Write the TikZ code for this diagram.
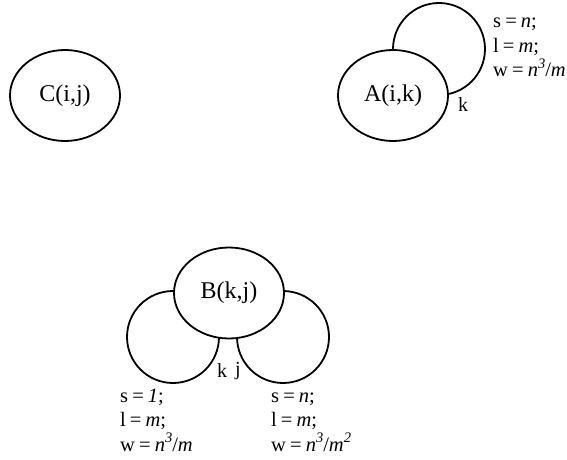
\documentclass[tikz,border=0pt]{standalone}
\usepackage{fontspec}
\setmainfont{Liberation Serif}
\usetikzlibrary{shapes.geometric}
\newcommand{\supit}[1]{\raisebox{0.42em}{\fontsize{14.5}{14.5}\selectfont\textit{#1}}}
\newcommand{\eqsp}{\hspace{0.2em}=\hspace{0.2em}}
\begin{document}
\begin{tikzpicture}[x=1pt,y=-1pt,
  ell/.style={ellipse, draw, line width=1.8pt, fill=white, minimum width=110pt, minimum height=91pt, inner sep=0pt, font=\fontsize{24}{24}\selectfont},
  lp/.style={circle, draw, line width=1.8pt, minimum size=92pt, inner sep=0pt},
  lab/.style={align=left, anchor=base west, inner sep=0pt, font=\fontsize{20.5}{24.5}\selectfont},
  idx/.style={inner sep=0pt, font=\fontsize{20}{20}\selectfont}]
\useasboundingbox (0,0) rectangle (567,460);
% loops (drawn first, ellipses cover them)
\node[lp] (loopA) at (439,49) {};
\node[lp] (loopBl) at (173,337) {};
\node[lp] (loopBr) at (283,337) {};
% nodes
\node[ell] (C) at (65,95.5) {C(i,j)};
\node[ell] (A) at (393,95.5) {A(i,k)};
\node[ell] (B) at (229,293) {B(k,j)};
% labels (base anchor = baseline of the last line)
\node[lab] (labA) at (493,77) {s\eqsp\textit{n};\\l\eqsp\textit{m};\\w\eqsp\textit{n}\supit{3}/\textit{m}};
\node[idx] (kA) at (463,105) {k};
\node[idx] (kB) at (222,371) {k};
\node[idx] (jB) at (238,371) {j};
\node[lab] (labBl) at (120,451) {s\eqsp\textit{1};\\l\eqsp\textit{m};\\w\eqsp\textit{n}\supit{3}/\textit{m}};
\node[lab] (labBr) at (271,451) {s\eqsp\textit{n};\\l\eqsp\textit{m};\\w\eqsp\textit{n}\supit{3}/\textit{m}\supit{2}};
\end{tikzpicture}
\end{document}
